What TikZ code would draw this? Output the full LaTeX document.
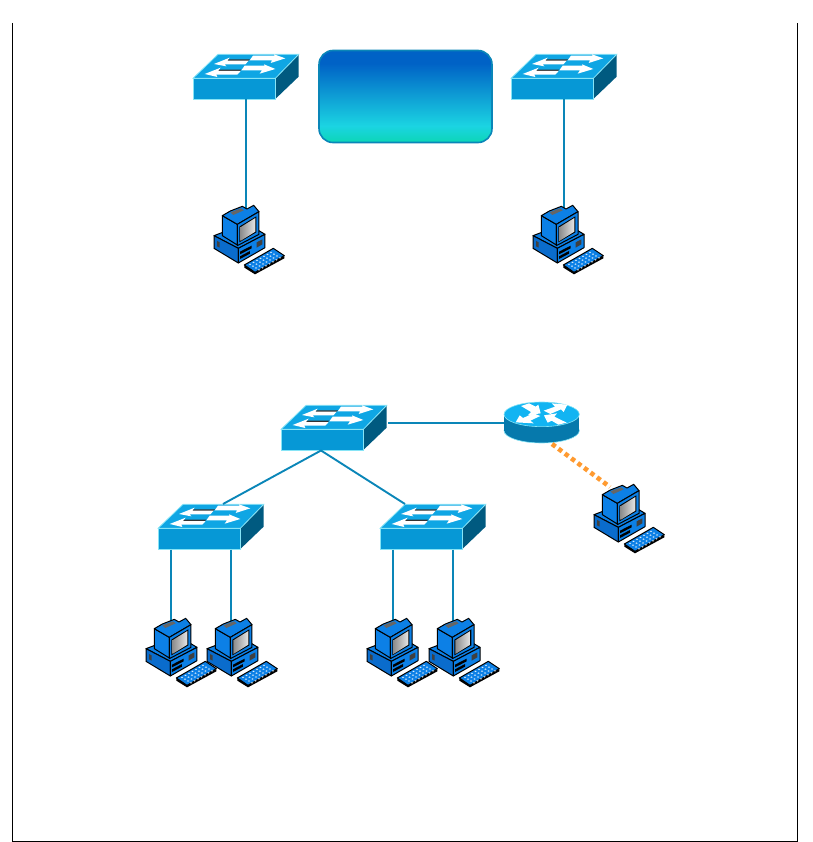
\documentclass[tikz,border=0pt]{standalone}
\usepackage{tikz}
\definecolor{link}{HTML}{0A86B8}
\definecolor{swtop}{HTML}{0FA6E4}
\definecolor{swfront}{HTML}{0698D6}
\definecolor{swside}{HTML}{005A80}
\definecolor{swedge}{HTML}{86E4F6}
\definecolor{pcblue}{HTML}{0C80E6}
\definecolor{pcdark}{HTML}{0A6CCC}
\definecolor{rtop}{HTML}{12B4F2}
\definecolor{rside}{HTML}{0679AC}
\definecolor{dots}{HTML}{FF9A30}
\definecolor{gbot}{HTML}{0CD6B6}
\definecolor{gmid}{HTML}{1BD4E2}
\definecolor{gtop}{HTML}{0062C6}
\pgfdeclareverticalshading{boxgrad}{100bp}{color(0bp)=(gbot); color(25bp)=(gbot); color(34bp)=(gmid); color(68bp)=(gtop); color(100bp)=(gtop)}
\tikzset{
  x=1pt,y=-1pt,
  wire/.style={draw=link,line width=1.9pt},
  dotwire/.style={draw=dots,line width=4.6pt,dash pattern=on 4.4pt off 3.6pt},
  frameline/.style={draw=black,line width=0.8pt},
  hold/.style={draw=none,inner sep=0pt,outer sep=0pt,rectangle},
  pcline/.style={draw=black,line width=1pt,line join=round},
  whitearrow/.style={fill=white,draw=none},
  switchpic/.pic={
    \node[hold,minimum width=107pt,minimum height=46pt] (-n) at (53.5,-1) {};
    \coordinate (-bl) at (13,21.5);
    \coordinate (-br) at (73,21.5);
    \coordinate (-bm) at (53,21.5);
    \coordinate (-bc) at (40,21.5);
    \coordinate (-tl) at (65,-24);
    \coordinate (-tr) at (25,-24);
    \coordinate (-rt) at (107,-6);
    \begin{scope}[shift={(-8.33,-33)},scale=0.3333]
      \fill[swside] (272,100)--(342,30)--(342,95)--(272,162)--cycle;
      \fill[swtop,draw=swedge,line width=0.8pt] (25,100)--(100,28)--(342,28)--(272,100)--cycle;
      \fill[swfront,draw=swedge,line width=0.8pt] (25,100) rectangle (272,162);
      \fill[black!80] (128,43)--(196,43)--(190,48)--(126,48)--cycle;
      \fill[black!80] (100,74)--(170,74)--(164,79)--(98,79)--cycle;
      \fill[whitearrow] (88,57)--(135,38)--(128,47)--(192,47)--(182,58)--(120,58)--(125,64)--cycle;
      \fill[whitearrow] (302,40)--(268,28)--(270,32)--(205,32)--(195,46)--(262,46)--(258,54)--cycle;
      \fill[whitearrow] (60,87)--(108,68)--(100,78)--(168,78)--(158,89)--(95,89)--(98,96)--cycle;
      \fill[whitearrow] (272,72)--(238,58)--(240,62)--(180,62)--(170,76)--(232,76)--(225,86)--cycle;
    \end{scope}
  },
  pcpic/.pic={
    \node[hold,minimum width=70pt,minimum height=70pt] (-n) at (44,45) {};
    \coordinate (-rt) at (25,13);
    \begin{scope}[scale=0.3333]
      \fill[pcblue,pcline] (27,122)--(125,85)--(180,118)--(100,160)--cycle;
      \fill[pcdark,pcline] (27,122)--(100,160)--(100,204)--(27,160)--cycle;
      \fill[pcblue,pcline] (100,160)--(180,118)--(180,158)--(100,204)--cycle;
      \fill[black!75] (36,138)--(44,142)--(44,158)--(36,154)--cycle;
      \fill[black] (105,170)--(140,152)--(140,160)--(105,178)--cycle;
      \fill[black] (105,184)--(135,168)--(135,176)--(105,192)--cycle;
      \fill[black!75] (155,142)--(172,133)--(172,148)--(155,158)--cycle;
      \fill[pcblue,pcline] (52,62)--(97,88)--(97,150)--(52,122)--cycle;
      \fill[pcblue,pcline] (52,62)--(76,48)--(112,34)--(126,42)--(146,31)--(162,50)--(97,88)--cycle;
      \fill[black!60] (76,52)--(108,40)--(116,46)--(85,60)--cycle;
      \fill[pcblue,pcline] (97,88)--(162,50)--(162,118)--(97,152)--cycle;
      \fill[black] (103,95)--(154,64)--(154,112)--(103,142)--cycle;
      \shade[left color=black!45,right color=black!10] (106,97)--(151,69)--(151,110)--(106,138)--cycle;
      \fill[black] (118,212)--(118,218)--(150,238)--(238,190)--(238,184)--cycle;
      \fill[pcblue,pcline] (118,210)--(205,160)--(238,182)--(150,232)--cycle;
      \foreach \r in {0,1,2,3}{
        \foreach \c in {0,1,2,3,4,5,6}{
          \fill[white!85!pcblue] ({135+\c*10.5+\r*9},{208-\c*6+\r*5.5}) circle[x radius=3.4,y radius=2.2];
        }
      }
    \end{scope}
  },
  routerpic/.pic={
    \node[hold,minimum width=76pt,minimum height=41pt] (-n) at (46.7,23) {};
    \coordinate (-lf) at (9,33);
    \coordinate (-bt) at (57,54);
    \begin{scope}[scale=0.3333]
      \fill[rside,draw=swedge,line width=0.6pt] (140,122) ellipse[x radius=113,y radius=37];
      \fill[rside] (27,73) rectangle (253,122);
      \fill[rtop,draw=swedge,line width=0.6pt] (140,73) ellipse[x radius=113,y radius=37];
      \fill[whitearrow] (78,48)--(102,40)--(122,50)--(130,44)--(137,70)--(98,76)--(108,66)--cycle;
      \fill[whitearrow] (217,44)--(170,40)--(180,50)--(146,62)--(166,72)--(198,58)--(206,66)--cycle;
      \fill[whitearrow] (62,97)--(74,76)--(84,84)--(116,70)--(136,78)--(106,92)--(116,100)--cycle;
      \fill[whitearrow] (215,98)--(190,104)--(170,92)--(158,98)--(147,76)--(186,70)--(178,80)--cycle;
    \end{scope}
  }
}
\begin{document}
\begin{tikzpicture}
\useasboundingbox (0,0) rectangle (812,842);
\coordinate (fa) at (12.5,23);
\coordinate (fb) at (12.5,841);
\coordinate (fc) at (797,841);
\coordinate (fd) at (797,23);
\draw[frameline] (fa)--(fb)--(fc)--(fd);

\node[hold,draw=link,line width=1.6pt,rounded corners=14pt,shading=boxgrad,minimum width=173pt,minimum height=92pt] (cloud) at (405.5,96.5) {};

\pic (sw1) at (193,78) {switchpic};
\pic (sw2) at (511,78) {switchpic};
\pic (sw3) at (281,429) {switchpic};
\pic (sw4) at (158,528) {switchpic};
\pic (sw5) at (380,528) {switchpic};
\pic (rt) at (495,390) {routerpic};

\draw[wire] (sw1-bm)--++(0,110);
\draw[wire] (sw2-bm)--++(0,110);
\draw[wire] (sw3-bc)--(sw4-tl);
\draw[wire] (sw3-bc)--(sw5-tr);
\draw[wire] (sw3-rt)--(rt-lf);
\draw[wire] (sw4-bl)--++(0,72);
\draw[wire] (sw4-br)--++(0,72);
\draw[wire] (sw5-bl)--++(0,72);
\draw[wire] (sw5-br)--++(0,72);

\pic (pc1) at (205,195) {pcpic};
\pic (pc2) at (524,195) {pcpic};
\pic (pc3) at (585,474) {pcpic};
\pic (pc4) at (137,608) {pcpic};
\pic (pc5) at (198,608) {pcpic};
\pic (pc6) at (358,608) {pcpic};
\pic (pc7) at (420,608) {pcpic};
\draw[dotwire] (rt-bt)--(pc3-rt);
\end{tikzpicture}
\end{document}
